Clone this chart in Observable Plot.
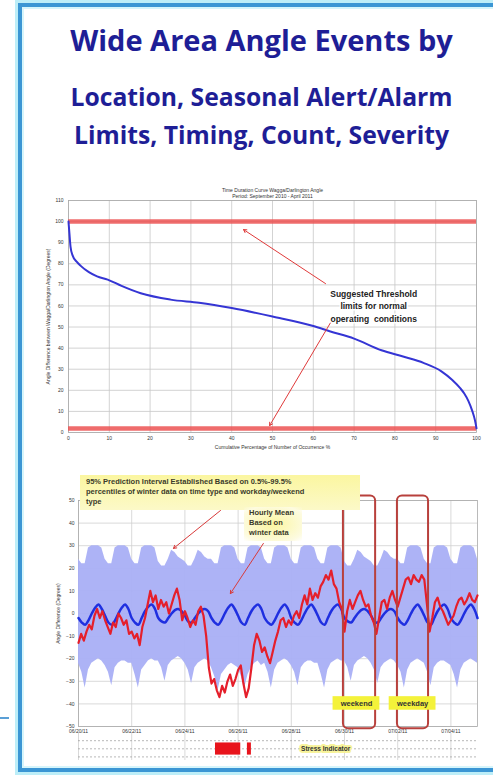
<!DOCTYPE html>
<html><head><meta charset="utf-8">
<script src="https://cdn.jsdelivr.net/npm/d3@7"></script>
<script src="https://cdn.jsdelivr.net/npm/@observablehq/plot@0.6"></script>
<style>
html,body{margin:0;padding:0;background:#fff;}
body{width:493px;height:776px;position:relative;overflow:hidden;font-family:"Liberation Sans",Arial,sans-serif;}
#frame{position:absolute;left:18px;top:3px;width:600px;height:769px;box-sizing:border-box;border:4px solid #3b96d4;box-shadow:0 0 0 3px #bdeef8, inset 0 0 0 2px #d6f5fb;}
.title{position:absolute;left:10px;width:503px;text-align:center;font-family:"Open Sans",sans-serif;font-weight:700;color:#1e1e96;line-height:1;white-space:nowrap;}
.chart{position:absolute;left:0;}
.note{position:absolute;font-family:"Liberation Sans",Arial,sans-serif;font-weight:700;font-size:7.5px;line-height:10px;color:#3a3a2a;white-space:nowrap;}
#mark{position:absolute;left:0;top:717px;width:9px;height:2px;background:#5a9fd6;}
</style></head>
<body>
<div id="frame"></div>
<div id="mark"></div>
<div class="title" style="top:25px;font-size:29px;">Wide Area Angle Events by</div>
<div class="title" style="top:85px;font-size:24.7px;">Location, Seasonal Alert/Alarm</div>
<div class="title" style="top:123px;font-size:24.7px;">Limits, Timing, Count, Severity</div>
<div id="top" class="chart" style="top:180px"></div>
<div id="bottom" class="chart" style="top:470px"></div>
<div id="strip" class="chart" style="top:733px"></div>
<div class="note" style="left:80px;top:475px;width:268px;height:31px;padding:2px 6px;background:linear-gradient(#fbf6a0,#fcf9c8);">95% Prediction Interval Established Based on 0.5%-99.5%<br>percentiles of winter data on time type and workday/weekend<br>type</div>
<div class="note" style="left:244px;top:507px;width:48px;height:32px;padding:1px 5px;background:radial-gradient(#fbf6a0,#fdfbe0 80%,rgba(255,255,255,0));">Hourly Mean<br>Based on<br>winter data</div>
<script>
// ---------- Top chart: duration curve ----------
const topTitle = "Time Duration Curve Wagga/Darlington Angle\nPeriod: September 2010 - April 2011";
const topPct   = [0, 0.2, 0.5, 1, 2, 3, 5, 7, 9.6, 13, 17.7, 25, 32, 40, 50, 60, 64, 70, 76.7, 82, 87, 91.4, 94, 96, 97, 98, 99, 99.6, 100];
const topAngle = [100, 95, 88, 84, 81, 79, 76, 74, 72.5, 69.5, 66, 63, 61.5, 59, 55, 50.5, 48, 44.5, 39, 36, 33, 29, 25, 21, 18.5, 15, 10, 6, 2];
const topThresholds = [100, 1.9];
const topXTicks = [0, 10, 20, 30, 40, 50, 60, 70, 80, 90, 100];
const topYTicks = [0, 10, 20, 30, 40, 50, 60, 70, 80, 90, 100, 110];
const topNote = "Suggested Threshold\nlimits for normal\noperating  conditions";
const topNoteAt = {x: 74.8, y: 60.2};
const topArrowFromX = [63, 64.2], topArrowFromY = [70.6, 52];
const topArrowToX = [42.9, 49.3], topArrowToY = [96.2, 3.3];

// ---------- Bottom chart: angle with prediction band (3-hourly) ----------
const bandT = [
  0,0.125,0.25,0.375,0.5,0.625,0.75,0.875,  1,1.125,1.25,1.375,1.5,1.625,1.75,1.875,
  2,2.125,2.25,2.375,2.5,2.625,2.75,2.875,  3,3.125,3.25,3.375,3.5,3.625,3.75,3.875,
  4,4.125,4.25,4.375,4.5,4.625,4.75,4.875,  5,5.125,5.25,5.375,5.5,5.625,5.75,5.875,
  6,6.125,6.25,6.375,6.5,6.625,6.75,6.875,  7,7.125,7.25,7.375,7.5,7.625,7.75,7.875,
  8,8.125,8.25,8.375,8.5,8.625,8.75,8.875,  9,9.125,9.25,9.375,9.5,9.625,9.75,9.875,
  10,10.125,10.25,10.375,10.5,10.625,10.75,10.875,  11,11.125,11.25,11.375,11.5,11.625,11.75,11.875,
  12,12.125,12.25,12.375,12.5,12.625,12.75,12.875,  13,13.125,13.25,13.375,13.5,13.625,13.75,13.875,
  14,14.125,14.25,14.375,14.5,14.625,14.75,14.875,  15];
const bandHi = [
  24,22,22,29,30,30,30,29,  24,22,22,29,30,30,30,29,
  24,22,22,29,30,30,30,29,  23,21,21,24,28,27,25,24,
  23,21,21,24,28,27,25,24,  24,22,22,29,30,30,30,29,
  24,22,22,29,30,30,30,29,  24,22,22,29,30,30,30,29,
  24,22,22,29,30,30,30,29,  24,22,22,29,30,30,30,29,
  23,21,21,24,28,27,25,24,  23,21,21,24,28,27,25,24,
  24,22,22,29,30,30,30,29,  24,22,22,29,30,30,30,29,
  24,22,22,29,30,30,30,29,  24];
const bandLo = [
  -22,-26,-33,-25,-22,-21,-20,-21,  -23,-26,-32,-24,-22,-21,-21,-22,
  -22,-27,-33,-25,-23,-21,-20,-21,  -21,-24,-30,-23,-21,-20,-19,-20,
  -22,-25,-31,-24,-22,-21,-20,-21,  -24,-28,-34,-27,-25,-23,-22,-23,
  -24,-28,-33,-27,-24,-22,-21,-23,  -22,-26,-33,-25,-22,-21,-20,-21,
  -23,-26,-32,-24,-22,-21,-21,-22,  -22,-27,-33,-25,-22,-21,-20,-21,
  -21,-24,-30,-23,-21,-20,-19,-20,  -22,-25,-31,-24,-22,-21,-20,-21,
  -23,-26,-33,-25,-22,-21,-20,-21,  -22,-26,-32,-24,-22,-21,-21,-22,
  -23,-27,-33,-25,-22,-21,-20,-21,  -22];
const hourlyMean = [
  -2,-4,-5,-3,0,2.5,4,2,  -1,-4,-5,-3,0,2.5,4,2,
  -2,-4,-5,-2,1,3,4,2,  -2,-3.5,-4,-2,0,1.5,2,1,
  -1,-3.5,-4,-2,0,1.5,2,1,  -2,-4,-5,-3,0,2.5,4,2,
  -1,-4,-5,-2,1,3,4,2,  -2,-4,-5,-3,0,2.5,4,2,
  -2,-4,-5,-3,0,2.5,4,2,  -1,-4,-5,-2,1,3,4,2,
  -2,-3.5,-4,-2,0,1.5,2,1,  -1,-3.5,-4,-2,0,1.5,2,1,
  -2,-4,-5,-3,0,2.5,4,2,  -1,-4,-5,-2,1,3,4,2,
  -2,-4,-5,-3,0,2.5,4,2,  -2];
const actualT = [
  0,0.1,0.2,0.3,0.4,0.5,0.6,0.7,0.8,0.9,  1,1.1,1.2,1.3,1.4,1.5,1.6,1.7,1.8,1.9,
  2,2.1,2.2,2.3,2.4,2.5,2.6,2.7,2.8,2.9,  3,3.1,3.2,3.3,3.4,3.5,3.6,3.7,3.8,3.9,
  4,4.1,4.2,4.3,4.4,4.5,4.6,4.7,4.8,4.9,  5,5.1,5.2,5.3,5.4,5.5,5.6,5.7,5.8,5.9,
  6,6.1,6.2,6.3,6.4,6.5,6.6,6.7,6.8,6.9,  7,7.1,7.2,7.3,7.4,7.5,7.6,7.7,7.8,7.9,
  8,8.1,8.2,8.3,8.4,8.5,8.6,8.7,8.8,8.9,  9,9.1,9.2,9.3,9.4,9.5,9.6,9.7,9.8,9.9,
  10,10.1,10.2,10.3,10.4,10.5,10.6,10.7,10.8,10.9,  11,11.1,11.2,11.3,11.4,11.5,11.6,11.7,11.8,11.9,
  12,12.1,12.2,12.3,12.4,12.5,12.6,12.7,12.8,12.9,  13,13.1,13.2,13.3,13.4,13.5,13.6,13.7,13.8,13.9,
  14,14.1,14.2,14.3,14.4,14.5,14.6,14.7,14.8,14.9,  15];
const actualV = [
  -13,-9,-12,-8,-5,-7,-1,2,-2,1,  -3,-6,-9,-4,-6,0,-2,-5,-3,-9,
  -8,-11,-9,-14,-6,-2,4,10,5,8,  2,6,3,5,0,4,8,11,6,-3,
  1,-2,-6,-3,-5,1,3,-1,-10,-24,  -31,-29,-34,-37,-32,-35,-30,-27,-32,-29,
  -25,-23,-31,-37,-33,-24,-14,-9,-12,-17,  -15,-19,-22,-17,-12,-8,-3,-2,-6,-3,
  -5,-1,1,-2,4,8,4,11,6,9,  7,12,14,17,15,19,13,11,5,2,
  -8,1,6,2,5,8,10,6,3,4,  -1,-4,-9,-2,5,6,2,7,10,6,
  3,7,11,15,16,13,17,15,14,17,  15,4,-8,-2,5,7,3,1,-2,-5,
  -3,-1,3,6,7,4,6,9,6,5,  8];
const boxStart = [9.96, 11.99], boxEnd = [11.17, 13.16];
const boxTop = 52, boxBottom = -51;
const dayLabels = ["weekend", "weekday"];
const dayLabelT = [10.45, 12.56], dayLabelV = -39.8;
const botArrowFromX = [5.34, 6.95], botArrowFromY = [45.6, 31];
const botArrowToX = [3.57, 5.71], botArrowToY = [28.8, 8.8];
const botXTicks = [0, 2, 4, 6, 8, 10, 12, 14];
const botXLabels = ["06/20/11", "06/22/11", "06/24/11", "06/26/11", "06/28/11", "06/30/11", "07/02/11", "07/04/11"];
const botYTicks = [-50, -40, -30, -20, -10, 0, 10, 20, 30, 40, 50];
const stressStart = [5.15, 6.35], stressEnd = [6.1, 6.5];
const stressLabel = "Stress Indicator";

// ---------- build ----------
const font = "Liberation Sans, Arial, sans-serif";
const curve = topPct.map((p, i) => ({p, v: topAngle[i]}));
const topArrows = topArrowFromX.map((x, i) => ({x1: x, y1: topArrowFromY[i], x2: topArrowToX[i], y2: topArrowToY[i]}));

const topChart = Plot.plot({
  width: 493, height: 278,
  marginLeft: 68, marginRight: 17, marginTop: 20, marginBottom: 26,
  style: {background: "transparent", fontFamily: font, fontSize: "5px", color: "#333", overflow: "visible"},
  x: {domain: [0, 100], ticks: topXTicks, label: "Cumulative Percentage of Number of Occurrence %", labelAnchor: "center", labelArrow: "none", labelOffset: 16, tickSize: 0, tickPadding: 4},
  y: {domain: [0, 110], ticks: topYTicks, label: "Angle Difference between Wagga/Darlington Angle (Degrees)", labelAnchor: "center", labelArrow: "none", labelOffset: 22, tickSize: 0, tickPadding: 5},
  marks: [
    Plot.gridX(topXTicks, {stroke: "#c8c8c8", strokeOpacity: 1, strokeWidth: 0.8}),
    Plot.gridY(topYTicks, {stroke: "#c8c8c8", strokeOpacity: 1, strokeWidth: 0.8}),
    Plot.frame({stroke: "#aaa", strokeWidth: 0.8}),
    Plot.ruleY(topThresholds, {stroke: "#ec5252", strokeWidth: 4.5, strokeOpacity: 0.85}),
    Plot.line(curve, {x: "p", y: "v", stroke: "#3535d4", strokeWidth: 2, curve: "monotone-x"}),
    Plot.arrow(topArrows, {x1: "x1", y1: "y1", x2: "x2", y2: "y2", stroke: "#e03a3a", strokeWidth: 1, headLength: 5}),
    Plot.text([topNote], {x: topNoteAt.x, y: topNoteAt.y, text: d => d, fontSize: 8.5, fontWeight: "bold", fill: "#222", lineHeight: 1.45, stroke: "white", strokeWidth: 3, paintOrder: "stroke"}),
    Plot.text([topTitle], {frameAnchor: "top", dy: -13, text: d => d, fontSize: 5, fill: "#333", lineHeight: 1.2})
  ]
});
document.getElementById("top").append(topChart);

const band = bandT.map((t, i) => ({t, hi: bandHi[i], lo: bandLo[i], m: hourlyMean[i]}));
const actual = actualT.map((t, i) => ({t, v: actualV[i]}));
const boxes = boxStart.map((s, i) => ({x1: s, x2: boxEnd[i], y1: boxBottom, y2: boxTop}));
const labels = dayLabels.map((l, i) => ({l, t: dayLabelT[i], v: dayLabelV}));
const botArrows = botArrowFromX.map((x, i) => ({x1: x, y1: botArrowFromY[i], x2: botArrowToX[i], y2: botArrowToY[i]}));

const bottomChart = Plot.plot({
  width: 493, height: 270,
  marginLeft: 78, marginRight: 16, marginTop: 30, marginBottom: 14,
  style: {background: "transparent", fontFamily: font, fontSize: "5px", color: "#333", overflow: "visible"},
  x: {domain: [0, 15], ticks: botXTicks, tickFormat: (d, i) => botXLabels[i], label: null, tickSize: 0, tickPadding: 3},
  y: {domain: [-50, 50], ticks: botYTicks, label: "Angle Difference (Degrees)", labelAnchor: "center", labelArrow: "none", labelOffset: 22, tickSize: 0, tickPadding: 4},
  marks: [
    Plot.gridX(botXTicks, {stroke: "#cfcfcf", strokeOpacity: 1, strokeWidth: 0.8}),
    Plot.gridY(botYTicks, {stroke: "#cfcfcf", strokeOpacity: 1, strokeWidth: 0.8}),
    Plot.frame({stroke: "#aaa", strokeWidth: 0.8}),
    Plot.areaY(band, {x: "t", y1: "lo", y2: "hi", fill: "#a9aff6", fillOpacity: 0.95}),
    Plot.line(band, {x: "t", y: "m", stroke: "#1f2fe0", strokeWidth: 2.5, curve: "catmull-rom"}),
    Plot.line(actual, {x: "t", y: "v", stroke: "#e51f2b", strokeWidth: 2.2}),
    Plot.rect(boxes, {x1: "x1", x2: "x2", y1: "y1", y2: "y2", fill: "none", stroke: "#b8403c", strokeWidth: 2, rx: 5}),
    Plot.arrow(botArrows, {x1: "x1", y1: "y1", x2: "x2", y2: "y2", stroke: "#d83a3a", strokeWidth: 1, headLength: 5}),
    Plot.rect(labels, {x1: d => d.t - 0.88, x2: d => d.t + 0.88, y1: d => d.v - 3, y2: d => d.v + 3, fill: "#f4f23a"}),
    Plot.text(labels, {x: "t", y: "v", text: "l", fontSize: 7.5, fontWeight: "bold", fill: "#333"})
  ]
});
document.getElementById("bottom").append(bottomChart);

const stress = stressStart.map((s, i) => ({x1: s, x2: stressEnd[i]}));
const stripChart = Plot.plot({
  width: 493, height: 27,
  marginLeft: 78, marginRight: 16, marginTop: 0, marginBottom: 0,
  style: {background: "transparent", fontFamily: font, overflow: "visible"},
  x: {domain: [0, 15], axis: null},
  y: {domain: [0, 3], axis: null},
  marks: [
    Plot.gridX(botXTicks, {stroke: "#cfcfcf", strokeOpacity: 1, strokeWidth: 0.8}),
    Plot.ruleY([0.4, 1.3, 2.2], {stroke: "#999", strokeDasharray: "2,2", strokeWidth: 0.7}),
    Plot.rect(stress, {x1: "x1", x2: "x2", y1: 0.6, y2: 1.95, fill: "#e8141c"}),
    Plot.text([stressLabel], {x: 9.29, y: 1.3, text: d => d, fontSize: 6.5, fontWeight: "bold", fill: "#333", stroke: "#f7f39a", strokeWidth: 4, paintOrder: "stroke"})
  ]
});
document.getElementById("strip").append(stripChart);
</script>
</body></html>
